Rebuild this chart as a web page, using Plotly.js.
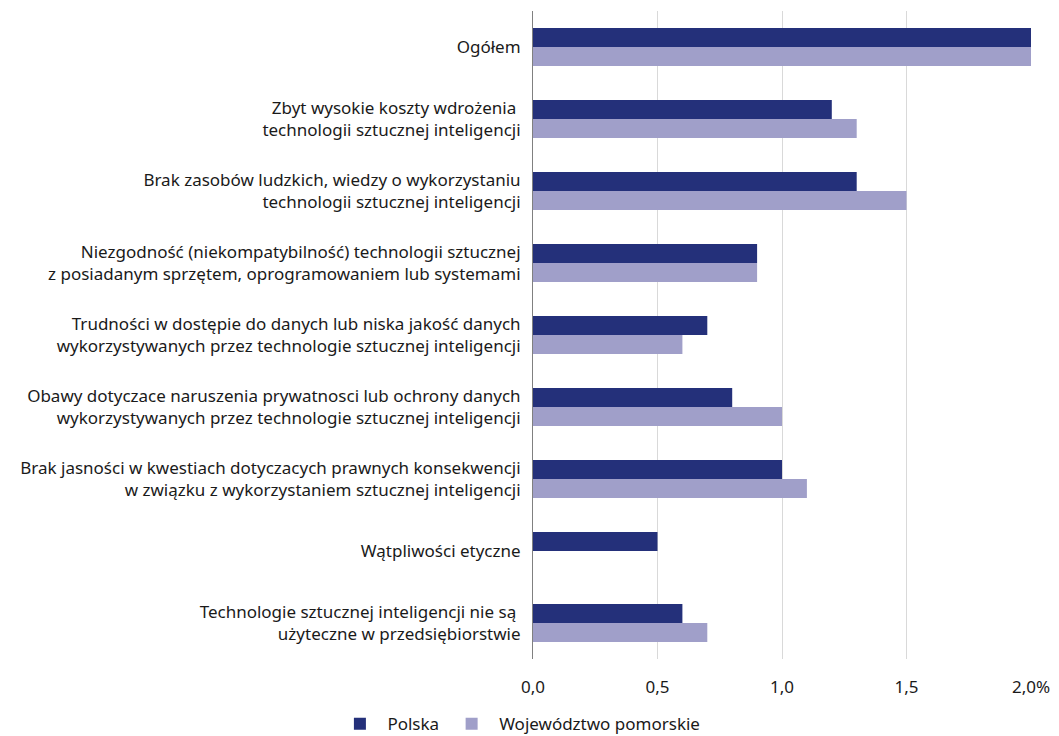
<!DOCTYPE html>
<html>
<head>
<meta charset="utf-8">
<script src="https://cdn.plot.ly/plotly-3.0.1.min.js"></script>
<style>html,body{margin:0;padding:0;background:#fff;}#chart{width:1059px;height:736px;}</style>
</head>
<body>
<div id="chart"></div>
<script>
const categories = [
  "Ogółem",
  "Zbyt wysokie koszty wdrożenia <br>technologii sztucznej inteligencji",
  "Brak zasobów ludzkich, wiedzy o wykorzystaniu<br>technologii sztucznej inteligencji",
  "Niezgodność (niekompatybilność) technologii sztucznej<br>z posiadanym sprzętem, oprogramowaniem lub systemami",
  "Trudności w dostępie do danych lub niska jakość danych<br>wykorzystywanych przez technologie sztucznej inteligencji",
  "Obawy dotyczace naruszenia prywatnosci lub ochrony danych<br>wykorzystywanych przez technologie sztucznej inteligencji",
  "Brak jasności w kwestiach dotyczacych prawnych konsekwencji<br>w związku z wykorzystaniem sztucznej inteligencji",
  "Wątpliwości etyczne",
  "Technologie sztucznej inteligencji nie są <br>użyteczne w przedsiębiorstwie"
];
const polska = [2.0, 1.2, 1.3, 0.9, 0.7, 0.8, 1.0, 0.5, 0.6];
const pomorskie = [2.0, 1.3, 1.5, 0.9, 0.6, 1.0, 1.1, 0.0, 0.7];
const tickValues = [0, 0.5, 1.0, 1.5, 2.0];
const tickLabels = ["0,0", "0,5", "1,0", "1,5", "2,0%"];
const seriesNames = ["Polska", "Województwo pomorskie"];

const font = {family: "Noto Sans, Open Sans, sans-serif", size: 17, color: "#1a1a1a"};

const data = [
  {type: "bar", orientation: "h", name: seriesNames[0], y: categories, x: polska,
   marker: {color: "#24307a"}, hoverinfo: "x+name"},
  {type: "bar", orientation: "h", name: seriesNames[1], y: categories, x: pomorskie,
   marker: {color: "#a09fc9"}, hoverinfo: "x+name"}
];

const layout = {
  width: 1059, height: 736,
  margin: {l: 533, r: 28, t: 11, b: 77, autoexpand: false},
  paper_bgcolor: "#ffffff", plot_bgcolor: "#ffffff",
  font: font,
  barmode: "group",
  bargap: 0.47,
  bargroupgap: 0,
  xaxis: {
    range: [0, 2.0], tickvals: tickValues, ticktext: tickLabels,
    showgrid: true, gridcolor: "#d9d9d9", gridwidth: 1,
    zeroline: false, showline: false, ticks: "", ticklabelstandoff: 16,
    tickfont: font, fixedrange: true, automargin: false
  },
  yaxis: {
    type: "category", autorange: "reversed",
    showgrid: false, zeroline: false, showline: true, linecolor: "#808080", linewidth: 1,
    ticks: "", ticklabelstandoff: 8, tickfont: font, fixedrange: true, automargin: false
  },
  legend: {
    orientation: "h", xref: "container", yref: "container",
    x: 0.49, xanchor: "center", y: 0.016, yanchor: "middle",
    font: font, itemwidth: 45, traceorder: "normal"
  },
  showlegend: true
};

Plotly.newPlot("chart", data, layout, {displayModeBar: false, staticPlot: true});
</script>
</body>
</html>
